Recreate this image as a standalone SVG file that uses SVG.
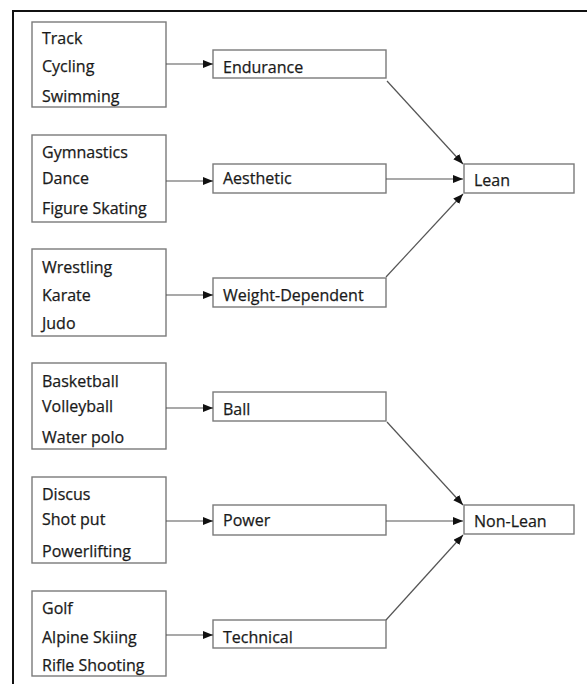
<svg xmlns="http://www.w3.org/2000/svg" width="587" height="684" viewBox="0 0 587 684">
<style>
.box{fill:#fff;stroke:#7a7a7a;stroke-width:1.4}
.t{font-family:"Open Sans","Liberation Sans",sans-serif;font-size:16px;fill:#1a1a1a;stroke:#1a1a1a;stroke-width:0.25}
.c{stroke:#555;stroke-width:1.2;fill:none;marker-end:url(#ah)}
</style>
<defs>
<marker id="ah" viewBox="0 0 10 8" refX="10" refY="4" markerWidth="10" markerHeight="8" markerUnits="userSpaceOnUse" orient="auto">
<path d="M0,0 L10,4 L0,8 z" fill="#111"/>
</marker>
</defs>
<rect width="587" height="684" fill="#fff"/>
<path d="M13,684 V11 H587" fill="none" stroke="#111" stroke-width="2"/>

<g id="src-endurance"><rect class="box" x="32" y="22" width="134" height="85"/>
<text class="t" x="42" y="44">Track</text><text class="t" x="42" y="72">Cycling</text><text class="t" x="42" y="102">Swimming</text></g>
<g id="src-aesthetic"><rect class="box" x="32" y="135" width="134" height="87"/>
<text class="t" x="42" y="158">Gymnastics</text><text class="t" x="42" y="184">Dance</text><text class="t" x="42" y="214">Figure Skating</text></g>
<g id="src-weight"><rect class="box" x="32" y="249" width="134" height="87"/>
<text class="t" x="42" y="273">Wrestling</text><text class="t" x="42" y="301">Karate</text><text class="t" x="42" y="329">Judo</text></g>
<g id="src-ball"><rect class="box" x="32" y="363" width="134" height="86"/>
<text class="t" x="42" y="387">Basketball</text><text class="t" x="42" y="412">Volleyball</text><text class="t" x="42" y="443">Water polo</text></g>
<g id="src-power"><rect class="box" x="32" y="477" width="134" height="86"/>
<text class="t" x="42" y="500">Discus</text><text class="t" x="42" y="525">Shot put</text><text class="t" x="42" y="557">Powerlifting</text></g>
<g id="src-technical"><rect class="box" x="32" y="591" width="134" height="85"/>
<text class="t" x="42" y="614">Golf</text><text class="t" x="42" y="643">Alpine Skiing</text><text class="t" x="42" y="671">Rifle Shooting</text></g>

<g id="endurance"><rect class="box" x="213" y="50" width="173" height="28"/><text class="t" x="223" y="73">Endurance</text></g>
<g id="aesthetic"><rect class="box" x="213" y="164" width="173" height="29"/><text class="t" x="223" y="184">Aesthetic</text></g>
<g id="weight-dependent"><rect class="box" x="213" y="278" width="173" height="29"/><text class="t" x="223" y="301">Weight-Dependent</text></g>
<g id="ball"><rect class="box" x="213" y="392" width="173" height="29"/><text class="t" x="223" y="415">Ball</text></g>
<g id="power"><rect class="box" x="213" y="505" width="173" height="30"/><text class="t" x="223" y="526">Power</text></g>
<g id="technical"><rect class="box" x="213" y="620" width="173" height="28"/><text class="t" x="223" y="643">Technical</text></g>

<g id="lean"><rect class="box" x="464" y="164" width="110" height="29"/><text class="t" x="474" y="186">Lean</text></g>
<g id="non-lean"><rect class="box" x="464" y="505" width="110" height="29"/><text class="t" x="474" y="527">Non-Lean</text></g>

<g id="connectors">
<line class="c" x1="166" y1="64" x2="213" y2="64"/>
<line class="c" x1="166" y1="181" x2="213" y2="181"/>
<line class="c" x1="166" y1="295" x2="213" y2="295"/>
<line class="c" x1="166" y1="408" x2="213" y2="408"/>
<line class="c" x1="166" y1="521" x2="213" y2="521"/>
<line class="c" x1="166" y1="635" x2="213" y2="635"/>
<line class="c" x1="387" y1="81" x2="463" y2="164"/>
<line class="c" x1="386" y1="179" x2="463" y2="179"/>
<line class="c" x1="386" y1="277" x2="463" y2="194"/>
<line class="c" x1="387" y1="422" x2="463" y2="505"/>
<line class="c" x1="386" y1="521" x2="463" y2="521"/>
<line class="c" x1="386" y1="620" x2="463" y2="535"/>
</g>
</svg>
